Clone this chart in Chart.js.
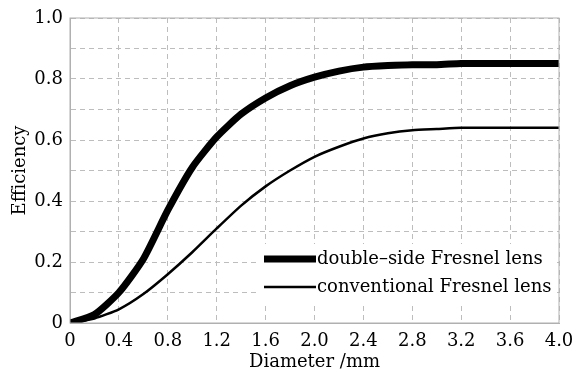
<!DOCTYPE html>
<html>
<head>
<meta charset="utf-8">
<script src="https://cdn.jsdelivr.net/npm/chart.js@4"></script>
<style>
  html, body { margin: 0; padding: 0; background: #fff; }
  #wrap { width: 576px; height: 373px; }
</style>
</head>
<body>
<div id="wrap"><canvas id="chart"></canvas></div>
<script>
const diameters = [0, 0.2, 0.4, 0.6, 0.8, 1.0, 1.2, 1.4, 1.6, 1.8, 2.0, 2.2, 2.4, 2.6, 2.8, 3.0, 3.2, 3.4, 3.6, 3.8, 4.0];
const doubleSide = [0, 0.028, 0.10, 0.21, 0.37, 0.51, 0.61, 0.685, 0.738, 0.778, 0.806, 0.826, 0.839, 0.844, 0.847, 0.847, 0.851, 0.851, 0.851, 0.851, 0.851];
const conventional = [0, 0.015, 0.045, 0.095, 0.16, 0.232, 0.31, 0.385, 0.448, 0.5, 0.545, 0.578, 0.605, 0.622, 0.632, 0.636, 0.64, 0.64, 0.64, 0.64, 0.64];
const seriesNames = ['double\u2013side Fresnel lens', 'conventional Fresnel lens'];
const xTitle = 'Diameter /mm';
const yTitle = 'Efficiency';

const FONT = "'DejaVu Serif', 'Liberation Serif', serif";

function toPoints(vals) {
  return diameters.map((d, i) => ({ x: d, y: vals[i] }));
}

// legend drawn inside the plot, with white background
const innerLegend = {
  id: 'innerLegend',
  afterDatasetsDraw(chart) {
    const ctx = chart.ctx;
    const area = chart.chartArea;
    ctx.save();
    ctx.fillStyle = '#fff';
    ctx.fillRect(258, 244, area.right - 258 - 3, 58);
    const rows = [
      { label: seriesNames[0], width: 7, y: 259 },
      { label: seriesNames[1], width: 2.5, y: 287 }
    ];
    ctx.font = '18px ' + FONT;
    ctx.textBaseline = 'middle';
    rows.forEach(r => {
      ctx.strokeStyle = '#000';
      ctx.lineWidth = r.width;
      ctx.beginPath();
      ctx.moveTo(264, r.y);
      ctx.lineTo(316, r.y);
      ctx.stroke();
      ctx.fillStyle = '#000';
      ctx.fillText(r.label, 317, r.y);
    });
    // frame around plot area
    ctx.strokeStyle = '#b0b0b0';
    ctx.lineWidth = 1;
    ctx.strokeRect(area.left, area.top, area.right - area.left, area.bottom - area.top);
    ctx.restore();
  }
};

new Chart(document.getElementById('chart'), {
  type: 'line',
  data: {
    datasets: [
      { label: seriesNames[0], data: toPoints(doubleSide), borderColor: '#000', borderWidth: 7, pointRadius: 0, tension: 0.2, fill: false },
      { label: seriesNames[1], data: toPoints(conventional), borderColor: '#000', borderWidth: 2.5, pointRadius: 0, tension: 0.2, fill: false }
    ]
  },
  options: {
    responsive: true,
    maintainAspectRatio: false,
    animation: false,
    layout: { padding: { top: 18, right: 17, left: 0, bottom: 0 } },
    plugins: { legend: { display: false }, tooltip: { enabled: false } },
    scales: {
      x: {
        type: 'linear',
        min: 0, max: 4,
        afterFit(scale) { scale.height = 50; scale.paddingLeft = 0; scale.paddingRight = 0; },
        border: { color: '#b0b0b0', dash: [5, 4] },
        grid: { color: '#bdbdbd', drawTicks: false },
        ticks: {
          stepSize: 0.4,
          padding: 8,
          color: '#000',
          font: { family: FONT, size: 18 },
          callback: v => (Math.abs(v) < 1e-9 ? '0' : v.toFixed(1))
        },
        title: { display: true, text: xTitle, color: '#000', font: { family: FONT, size: 18 }, padding: { top: -9, bottom: 0 } }
      },
      y: {
        min: 0, max: 1,
        afterFit(scale) { scale.width = 70; scale.paddingTop = 0; scale.paddingBottom = 0; },
        border: { color: '#b0b0b0', dash: [5, 4] },
        grid: { color: '#bdbdbd', drawTicks: false },
        ticks: {
          stepSize: 0.1,
          padding: 7,
          color: '#000',
          font: { family: FONT, size: 18 },
          callback: v => {
            const k = Math.round(v * 10);
            if (k % 2 !== 0) return '';
            return k === 0 ? '0' : (k / 10).toFixed(1);
          }
        },
        title: { display: true, text: yTitle, color: '#000', font: { family: FONT, size: 18 }, padding: { top: 10, bottom: 0 } }
      }
    }
  },
  plugins: [innerLegend]
});
</script>
</body>
</html>
